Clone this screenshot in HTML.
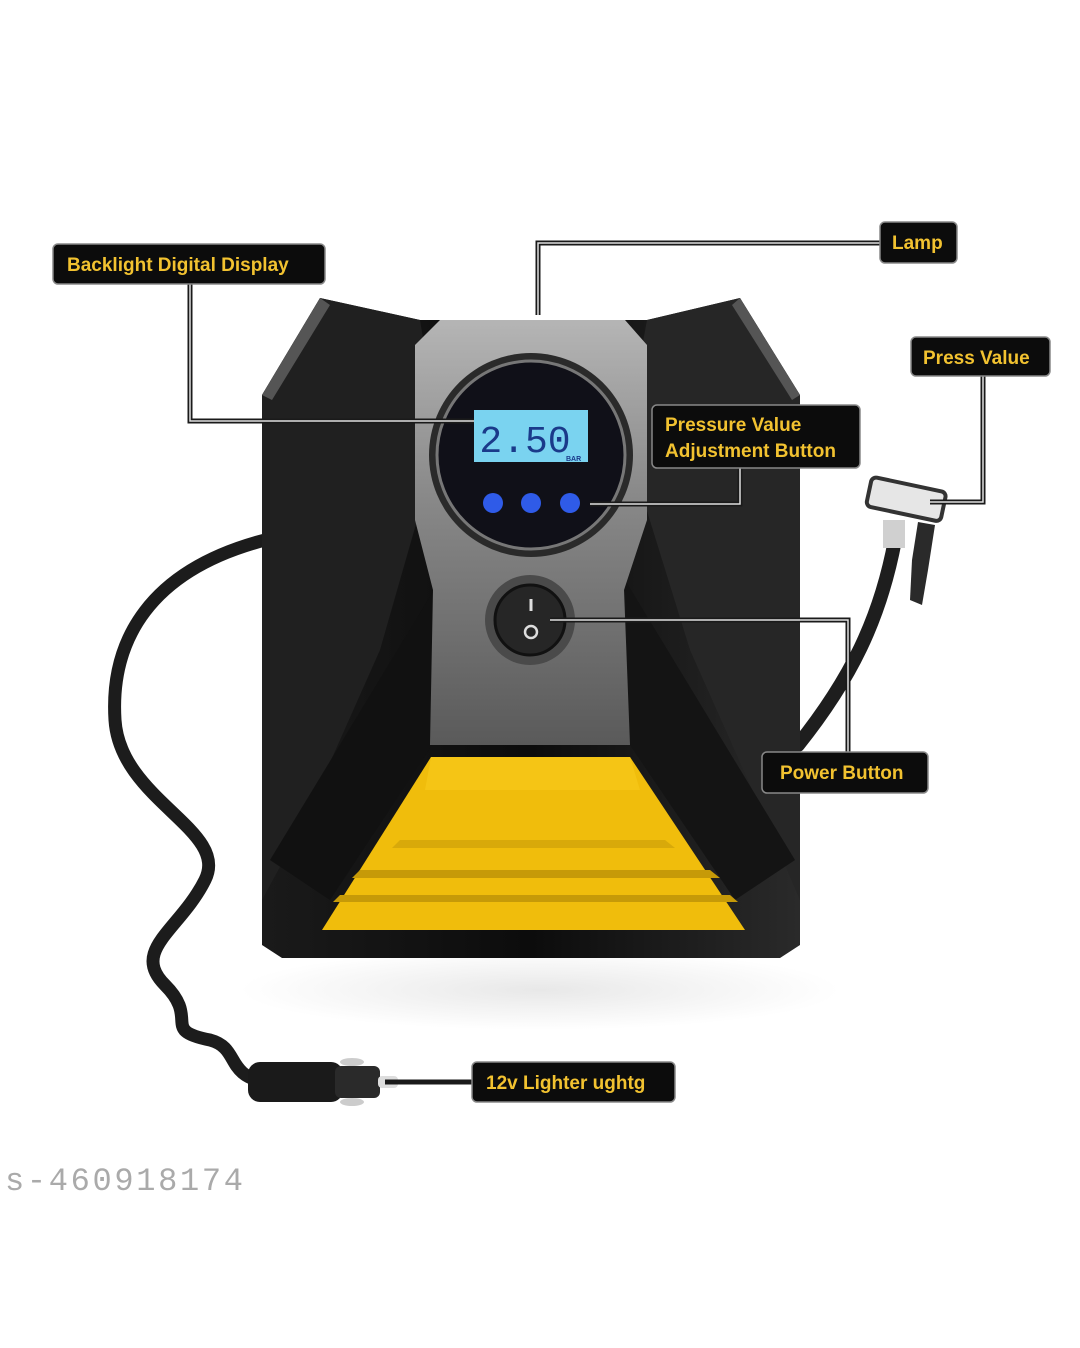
<!DOCTYPE html>
<html><head><meta charset="utf-8"><style>
html,body{margin:0;padding:0;background:#fff;}
svg{display:block;}
text{font-family:"Liberation Sans",sans-serif;font-weight:bold;}
text.n{font-weight:normal;}
</style></head><body>
<svg width="1080" height="1348" viewBox="0 0 1080 1348" xmlns="http://www.w3.org/2000/svg">
<defs>
<linearGradient id="body" x1="0" y1="0" x2="1" y2="0">
<stop offset="0" stop-color="#1a1a1a"/><stop offset="0.5" stop-color="#0c0c0c"/><stop offset="1" stop-color="#2a2a2a"/></linearGradient>
<linearGradient id="gray" x1="0" y1="0" x2="0" y2="1">
<stop offset="0" stop-color="#b5b5b5"/><stop offset="0.4" stop-color="#8a8a8a"/><stop offset="1" stop-color="#5a5a5a"/></linearGradient>
<radialGradient id="shadow" cx="0.5" cy="0.5" r="0.5"><stop offset="0" stop-color="#e8e8e8"/><stop offset="1" stop-color="#fff"/></radialGradient>
</defs>
<rect width="1080" height="1348" fill="#fff"/>
<ellipse cx="540" cy="990" rx="300" ry="40" fill="url(#shadow)"/>

<path d="M265 540 C150 570 110 640 115 720 C120 800 230 830 205 880 C180 930 130 950 165 985 C200 1020 160 1030 210 1040 C240 1048 225 1075 265 1082" fill="none" stroke="#1c1c1c" stroke-width="13" stroke-linecap="round"/>
<rect x="248" y="1062" width="95" height="40" rx="12" fill="#1a1a1a"/>
<rect x="335" y="1066" width="45" height="32" rx="6" fill="#2a2a2a"/>
<ellipse cx="352" cy="1062" rx="12" ry="4" fill="#ccc"/>
<ellipse cx="352" cy="1102" rx="12" ry="4" fill="#ccc"/>
<rect x="378" y="1076" width="20" height="12" rx="4" fill="#ddd"/>

<path d="M798 745 C850 680 880 620 895 540" fill="none" stroke="#1e1e1e" stroke-width="14" stroke-linecap="round"/>
<rect x="883" y="520" width="22" height="28" fill="#d0d0d0"/>
<g transform="rotate(12 905 500)">
<rect x="868" y="484" width="76" height="30" rx="5" fill="#e6e6e6" stroke="#333" stroke-width="4"/>
</g>
<path d="M918 522 L935 525 L928 570 L922 605 L910 600 L912 560 Z" fill="#2a2a2a"/>

<path d="M262 395 L320 298 L420 320 L647 320 L740 298 L800 395 L800 945 L780 958 L282 958 L262 945 Z" fill="url(#body)"/>
<path d="M262 395 L320 298 L420 320 L440 440 L380 650 L300 830 L262 900 Z" fill="#202020"/>
<path d="M800 395 L740 298 L647 320 L625 440 L690 650 L770 830 L800 900 Z" fill="#262626"/>
<path d="M262 395 L320 298 L330 305 L272 400 Z" fill="#555"/>
<path d="M800 395 L740 298 L732 305 L792 400 Z" fill="#555"/>
<path d="M270 860 L440 580 L432 745 L330 900 Z" fill="#111"/>
<path d="M795 860 L625 580 L630 745 L735 900 Z" fill="#141414"/>
<path d="M440 320 L625 320 L647 345 L647 520 L624 590 L630 745 L430 745 L433 590 L415 520 L415 345 Z" fill="url(#gray)"/>
<circle cx="531" cy="455" r="102" fill="#2a2a2a"/>
<circle cx="531" cy="455" r="94" fill="#101018"/>
<circle cx="531" cy="455" r="94" fill="none" stroke="#777" stroke-width="3"/>
<rect x="474" y="410" width="114" height="52" fill="#7ad3f0"/>
<text class="n" x="525" y="452" font-size="38" fill="#1a3a8a" text-anchor="middle" style="font-family:'Liberation Mono',monospace">2.50</text>
<text x="566" y="461" font-size="7" fill="#1a3a8a">BAR</text>
<circle cx="493" cy="503" r="10" fill="#2f5be8"/>
<circle cx="531" cy="503" r="10" fill="#2f5be8"/>
<circle cx="570" cy="503" r="10" fill="#2f5be8"/>
<circle cx="530" cy="620" r="45" fill="#4a4a4a"/>
<circle cx="530" cy="620" r="35" fill="#262626" stroke="#111" stroke-width="3"/>
<line x1="531" y1="599" x2="531" y2="611" stroke="#ddd" stroke-width="3"/>
<circle cx="531" cy="632" r="6" fill="none" stroke="#ddd" stroke-width="2.5"/>
<path d="M431 757 L630 757 L745 930 L322 930 Z" fill="#f0bd0c"/>
<path d="M431 757 L630 757 L640 790 L425 790 Z" fill="#f5c515"/>
<path d="M360 870 L710 870 L720 878 L352 878 Z" fill="#c69a08"/>
<path d="M340 895 L730 895 L738 902 L333 902 Z" fill="#c69a08"/>
<path d="M400 840 L665 840 L675 848 L392 848 Z" fill="#d8a90a"/>

<g fill="none" stroke="#1a1a1a" stroke-width="5">
<polyline points="190,284 190,421 474,421"/>
<polyline points="538,315 538,243 880,243"/>
<polyline points="983,376 983,502 930,502"/>
<polyline points="740,468 740,504 590,504"/>
<polyline points="550,620 848,620 848,755"/>
<line x1="385" y1="1082" x2="472" y2="1082"/>
</g>
<g fill="none" stroke="#e0e0e0" stroke-width="1.5">
<polyline points="190,284 190,421 474,421"/>
<polyline points="538,315 538,243 880,243"/>
<polyline points="983,376 983,502 930,502"/>
<polyline points="740,468 740,504 590,504"/>
<polyline points="550,620 848,620 848,755"/>
</g>

<g stroke="#888" stroke-width="1.5">
<rect x="53" y="244" width="272" height="40" rx="5" fill="#0c0c0c"/>
<rect x="880" y="222" width="77" height="41" rx="5" fill="#0c0c0c"/>
<rect x="911" y="337" width="139" height="39" rx="5" fill="#0c0c0c"/>
<rect x="652" y="405" width="208" height="63" rx="5" fill="#0c0c0c"/>
<rect x="762" y="752" width="166" height="41" rx="5" fill="#0c0c0c"/>
<rect x="472" y="1062" width="203" height="40" rx="5" fill="#0c0c0c"/>
</g>
<g fill="#f2c230" font-size="19">
<text x="67" y="271">Backlight Digital Display</text>
<text x="892" y="249">Lamp</text>
<text x="923" y="364">Press Value</text>
<text x="665" y="431">Pressure Value</text>
<text x="665" y="457">Adjustment Button</text>
<text x="780" y="779">Power Button</text>
<text x="486" y="1089">12v Lighter ughtg</text>
</g>
<text class="n" x="5" y="1190" font-size="32" fill="#aaa" style="font-family:'Liberation Mono',monospace" textLength="238">s-460918174</text>
</svg>
</body></html>
